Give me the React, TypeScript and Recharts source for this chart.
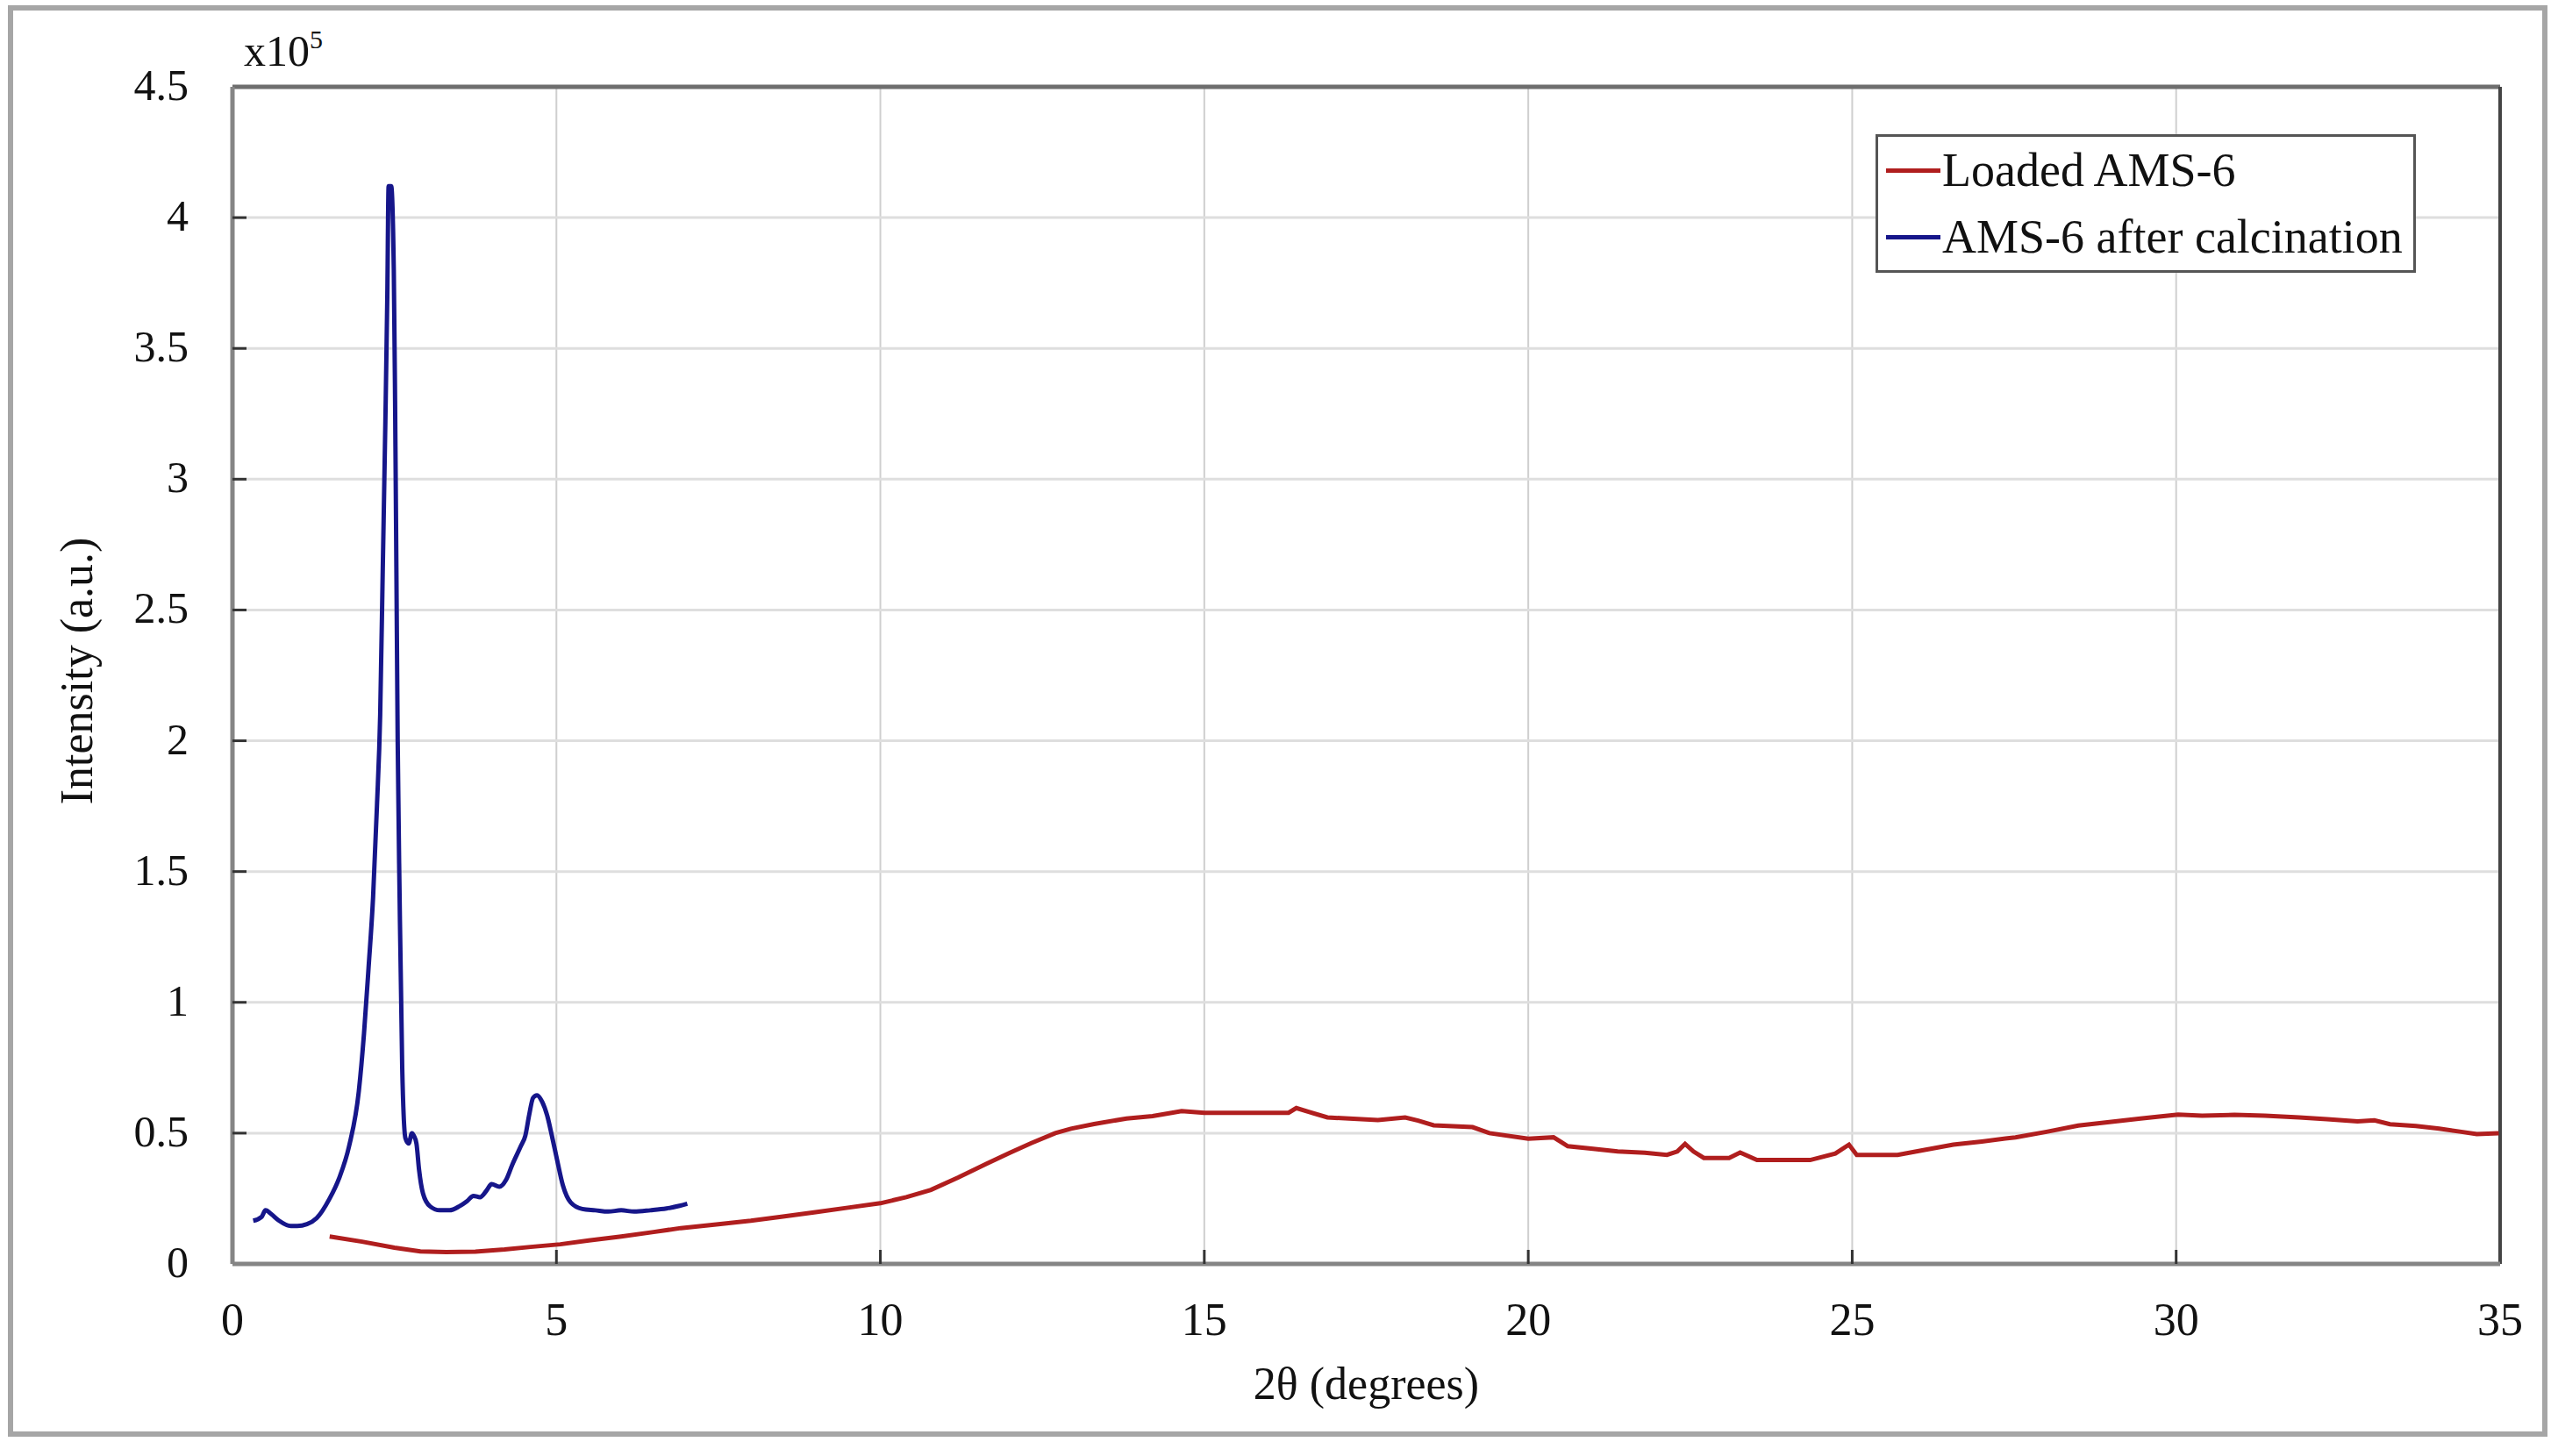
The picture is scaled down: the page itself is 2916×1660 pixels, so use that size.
import { LineChart, Line, XAxis, YAxis, CartesianGrid, ReferenceLine, Legend } from 'recharts';

// 2θ in degrees, intensity in units of 1e5 counts
const blueTheta = [
  0.32, 0.45, 0.51, 0.6, 0.72, 0.9, 1.0, 1.15, 1.3, 1.5, 1.65, 1.8, 1.95, 2.03, 2.1, 2.17, 2.23, 2.28,
  2.32, 2.36, 2.39, 2.41, 2.45, 2.49, 2.51, 2.53, 2.55, 2.58, 2.62, 2.67, 2.72, 2.77, 2.8, 2.84, 2.88,
  2.94, 3.05, 3.2, 3.35, 3.5, 3.62, 3.72, 3.82, 3.92, 4.0, 4.12, 4.22, 4.32, 4.45, 4.52, 4.58, 4.64,
  4.7, 4.78, 4.86, 4.93, 5.0, 5.1, 5.22, 5.4, 5.6, 5.8, 6.0, 6.2, 6.45, 6.7, 6.9, 7.02,
];
const blueIntensity = [
  0.165, 0.18, 0.205, 0.19, 0.165, 0.145, 0.145, 0.152, 0.175, 0.25, 0.33, 0.45, 0.66, 0.88, 1.13, 1.4,
  1.75, 2.1, 2.66, 3.22, 3.7, 4.12, 4.12, 3.8, 3.3, 2.66, 2.0, 1.4, 0.75, 0.48, 0.46, 0.5, 0.49, 0.46,
  0.36, 0.27, 0.22, 0.205, 0.205, 0.22, 0.24, 0.26, 0.255, 0.28, 0.305, 0.295, 0.32, 0.38, 0.45, 0.49,
  0.57, 0.635, 0.645, 0.62, 0.565, 0.49, 0.41, 0.3, 0.235, 0.21, 0.205, 0.2, 0.205, 0.2, 0.205, 0.212,
  0.222, 0.23,
];

const redTheta = [
  1.5, 2.0, 2.5, 2.9, 3.3, 3.75, 4.2, 4.6, 5.06, 5.5, 6.0, 6.5, 6.92, 7.5, 8.0, 8.47, 9.0, 9.5, 10.0,
  10.4, 10.78, 11.2, 11.64, 12.0, 12.33, 12.7, 12.94, 13.3, 13.8, 14.2, 14.65, 15.0, 15.52, 16.0, 16.3,
  16.42, 16.6, 16.9, 17.3, 17.68, 18.1, 18.3, 18.54, 19.14, 19.4, 20.0, 20.39, 20.61, 21.0, 21.38, 21.8,
  22.14, 22.3, 22.42, 22.55, 22.71, 23.1, 23.27, 23.53, 24.0, 24.35, 24.74, 24.95, 25.07, 25.7, 26.1,
  26.56, 27.0, 27.52, 28.0, 28.49, 29.0, 29.45, 30.03, 30.4, 30.9, 31.37, 31.9, 32.33, 32.8, 33.06,
  33.3, 33.7, 34.06, 34.4, 34.64, 34.98,
];
const redIntensity = [
  0.105, 0.085, 0.062, 0.048, 0.045, 0.047, 0.055, 0.065, 0.075, 0.09, 0.105, 0.122, 0.137, 0.152,
  0.165, 0.18, 0.198, 0.215, 0.232, 0.255, 0.283, 0.33, 0.383, 0.425, 0.462, 0.5, 0.517, 0.535, 0.556,
  0.565, 0.584, 0.578, 0.578, 0.578, 0.578, 0.596, 0.582, 0.56, 0.555, 0.55, 0.56, 0.548, 0.53, 0.523,
  0.5, 0.479, 0.484, 0.45, 0.44, 0.43, 0.425, 0.417, 0.43, 0.459, 0.43, 0.405, 0.405, 0.426, 0.397,
  0.397, 0.397, 0.422, 0.456, 0.417, 0.417, 0.435, 0.456, 0.468, 0.484, 0.505, 0.529, 0.543, 0.556,
  0.571, 0.567, 0.57, 0.567, 0.56, 0.553, 0.545, 0.549, 0.534, 0.527, 0.517, 0.505, 0.496, 0.5,
];

const seriesNames = ['Loaded AMS-6', 'AMS-6 after calcination'];
const xTicks = [0, 5, 10, 15, 20, 25, 30, 35];
const yTicks = [0, 0.5, 1, 1.5, 2, 2.5, 3, 3.5, 4, 4.5];

const loadedData = redTheta.map((x, i) => ({ x, y: redIntensity[i] }));
const calcinedData = blueTheta.map((x, i) => ({ x, y: blueIntensity[i] }));

const FONT = '"Liberation Serif", "Times New Roman", serif';
const TICK_COLOR = '#333';

const YTick = ({ x, y, payload }: any) => (
  <g>
    {payload.value > 0 && payload.value < 4.5 && (
      <line x1={x} y1={y} x2={x + 16} y2={y} stroke={TICK_COLOR} strokeWidth={3} />
    )}
    <text x={x - 50} y={y + 15} textAnchor="end" fontFamily={FONT} fontSize={50} fill="#111">
      {payload.value}
    </text>
  </g>
);

const XTick = ({ x, y, payload }: any) => (
  <g>
    {payload.value > 0 && payload.value < 35 && (
      <line x1={x} y1={y} x2={x} y2={y - 16} stroke={TICK_COLOR} strokeWidth={3} />
    )}
    <text x={x} y={y + 81} textAnchor="middle" fontFamily={FONT} fontSize={52} fill="#111">
      {payload.value}
    </text>
  </g>
);

const YTitle = ({ viewBox }: any) => {
  const axisX = viewBox.x + viewBox.width;
  const cx = axisX - 160;
  const cy = viewBox.y + viewBox.height / 2 - 5;
  return (
    <g>
      <text
        x={cx}
        y={cy}
        transform={`rotate(-90, ${cx}, ${cy})`}
        textAnchor="middle"
        fontFamily={FONT}
        fontSize={52}
        fill="#111"
      >
        Intensity (a.u.)
      </text>
      <text x={axisX + 13} y={viewBox.y - 24} fontFamily={FONT} fontSize={50} fill="#111">
        x10
        <tspan fontSize={30} dy={-20}>5</tspan>
      </text>
    </g>
  );
};

const XTitle = ({ viewBox }: any) => (
  <text
    x={viewBox.x + viewBox.width / 2}
    y={viewBox.y + 154}
    textAnchor="middle"
    fontFamily={FONT}
    fontSize={52}
    fill="#111"
  >
    2θ (degrees)
  </text>
);

const LegendBox = ({ payload }: any) => {
  const items = [...(payload || [])].sort(
    (a: any, b: any) => seriesNames.indexOf(a.value) - seriesNames.indexOf(b.value),
  );
  return (
    <div
      style={{
        border: '3px solid #555',
        background: '#fff',
        padding: '0 12px 0 9px',
        fontFamily: FONT,
        fontSize: 54,
        color: '#111',
      }}
    >
      {items.map((entry: any) => (
        <div key={entry.value} style={{ display: 'flex', alignItems: 'center', height: 76, whiteSpace: 'nowrap' }}>
          <span style={{ display: 'inline-block', width: 62, height: 5, background: entry.color, marginRight: 2 }} />
          <span>{entry.value}</span>
        </div>
      ))}
    </div>
  );
};

export default function App() {
  return (
    <div style={{ position: 'absolute', left: 0, top: 0, width: 2916, height: 1660, background: '#fff' }}>
      <div
        style={{
          position: 'absolute',
          left: 9,
          top: 6,
          width: 2895,
          height: 1632,
          boxSizing: 'border-box',
          border: '6px solid #a6a6a6',
        }}
      />
      <div style={{ position: 'absolute', left: 0, top: 0 }}>
        <LineChart width={2916} height={1660} margin={{ top: 99, right: 66, bottom: 159, left: 205 }}>
          <CartesianGrid horizontal={false} stroke="#cfcfcf" strokeWidth={2} />
          <CartesianGrid vertical={false} stroke="#dedede" strokeWidth={3} />
          <XAxis
            type="number"
            dataKey="x"
            domain={[0, 35]}
            ticks={xTicks}
            height={60}
            tickSize={0}
            tickMargin={0}
            tickLine={false}
            tick={<XTick />}
            axisLine={{ stroke: '#858585', strokeWidth: 5 }}
            allowDuplicatedCategory={false}
            label={{ content: (props: any) => <XTitle viewBox={props.viewBox} /> }}
          />
          <YAxis
            type="number"
            domain={[0, 4.5]}
            ticks={yTicks}
            width={60}
            tickSize={0}
            tickMargin={0}
            tickLine={false}
            tick={<YTick />}
            axisLine={{ stroke: '#858585', strokeWidth: 5 }}
            label={{ content: (props: any) => <YTitle viewBox={props.viewBox} /> }}
          />
          <ReferenceLine y={4.5} stroke="#6e6e6e" strokeWidth={5} />
          <ReferenceLine x={35} stroke="#444" strokeWidth={4} />
          <Line
            data={loadedData}
            dataKey="y"
            name={seriesNames[0]}
            type="linear"
            stroke="#b01e1e"
            strokeWidth={5}
            dot={false}
            isAnimationActive={false}
          />
          <Line
            data={calcinedData}
            dataKey="y"
            name={seriesNames[1]}
            type="monotone"
            stroke="#16168a"
            strokeWidth={5}
            dot={false}
            isAnimationActive={false}
          />
          <Legend
            layout="vertical"
            align="center"
            verticalAlign="middle"
            content={<LegendBox />}
            wrapperStyle={{ position: 'absolute', left: 2138, top: 153, width: 'auto', height: 'auto' }}
          />
        </LineChart>
      </div>
    </div>
  );
}
